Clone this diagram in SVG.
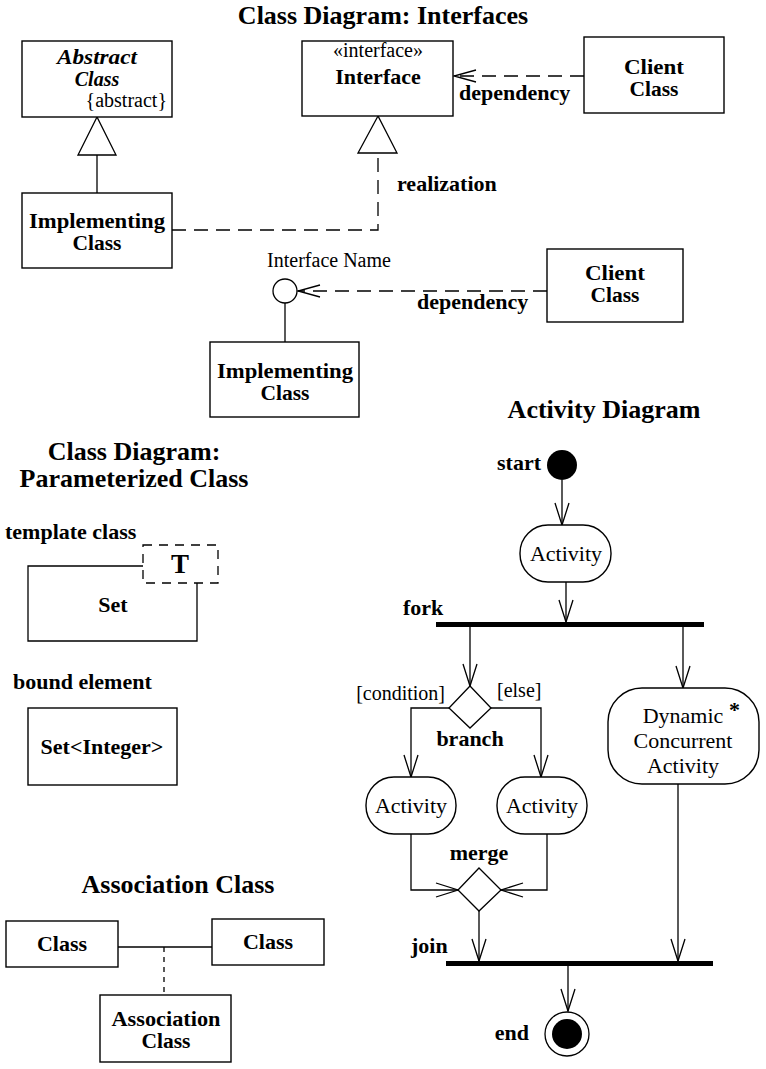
<svg xmlns="http://www.w3.org/2000/svg" width="766" height="1069" viewBox="0 0 766 1069">
<style>
text{font-family:"Liberation Serif","Times New Roman",serif;fill:#000}
.b{font-weight:bold;font-size:22px}
.c{font-weight:bold;font-size:20px}
.r{font-size:20px}
.a{font-size:22px}
.t{font-weight:bold;font-size:26px}
.box{fill:#fff;stroke:#000;stroke-width:1.4}
.ln{fill:none;stroke:#000;stroke-width:1.3}
.dash{fill:none;stroke:#000;stroke-width:1.3;stroke-dasharray:14 8}
.m{text-anchor:middle}
.e{text-anchor:end}
</style>
<defs>
<marker id="open" viewBox="-25 -10 30 20" refX="0" refY="0" markerWidth="30" markerHeight="20" markerUnits="userSpaceOnUse" orient="auto">
<path d="M-22,-7 L0,0 L-22,7" fill="none" stroke="#000" stroke-width="1.3"/>
</marker>
<marker id="open2" viewBox="-25 -10 30 20" refX="0" refY="0" markerWidth="30" markerHeight="20" markerUnits="userSpaceOnUse" orient="auto">
<path d="M-22,-6 L0,0 L-22,6" fill="none" stroke="#000" stroke-width="1.3"/>
</marker>
</defs>
<rect width="766" height="1069" fill="#fff"/>

<!-- titles -->
<text class="t m" x="383" y="24">Class Diagram: Interfaces</text>
<text class="t m" x="604" y="418">Activity Diagram</text>
<text class="t m" x="134" y="460">Class Diagram:</text>
<text class="t m" x="134" y="487">Parameterized Class</text>
<text class="t m" x="178" y="893">Association Class</text>

<!-- connectors -->
<g id="connectors">
<line class="ln" x1="97" y1="155" x2="97" y2="193"/>
<polygon points="97,117 78,155 116,155" fill="#fff" stroke="#000" stroke-width="1.3"/>
<polyline class="dash" points="172,230 378,230 378,155"/>
<polygon points="378,116 358,153 397,153" fill="#fff" stroke="#000" stroke-width="1.3"/>
<line class="dash" x1="584" y1="76" x2="454" y2="76" marker-end="url(#open2)"/>
<line class="dash" x1="547" y1="291" x2="298" y2="291" marker-end="url(#open2)"/>
<line class="ln" x1="285" y1="303" x2="285" y2="342"/>
<line class="ln" x1="118" y1="947" x2="212" y2="947"/>
<line class="ln" x1="164" y1="947" x2="164" y2="995" stroke-dasharray="5 5"/>
<line class="ln" x1="562" y1="480" x2="562" y2="525" marker-end="url(#open)"/>
<line class="ln" x1="566" y1="582" x2="566" y2="622" marker-end="url(#open)"/>
<line class="ln" x1="470" y1="627" x2="470" y2="686" marker-end="url(#open)"/>
<line class="ln" x1="683" y1="627" x2="683" y2="688" marker-end="url(#open)"/>
<polyline class="ln" points="449,708 411,708 411,777" marker-end="url(#open)"/>
<polyline class="ln" points="491,708 541,708 541,777" marker-end="url(#open)"/>
<polyline class="ln" points="411,834 411,890 458,890" marker-end="url(#open)"/>
<polyline class="ln" points="547,834 547,890 501,890" marker-end="url(#open)"/>
<line class="ln" x1="479" y1="911" x2="479" y2="961" marker-end="url(#open)"/>
<line class="ln" x1="678" y1="784" x2="678" y2="961" marker-end="url(#open)"/>
<line class="ln" x1="568" y1="966" x2="568" y2="1011" marker-end="url(#open)"/>
</g>

<!-- Interfaces -->
<g id="abstract-class">
<rect class="box" x="22" y="41" width="150" height="76"/>
<text class="c m" x="97" y="64" font-style="italic" textLength="80" lengthAdjust="spacingAndGlyphs">Abstract</text>
<text class="c m" x="97" y="86" font-style="italic">Class</text>
<text class="r e" x="167" y="107">{abstract}</text>
</g>
<g id="implementing-class-1">
<rect class="box" x="22" y="193" width="150" height="75"/>
<text class="c m" x="97" y="228" textLength="136" lengthAdjust="spacingAndGlyphs">Implementing</text>
<text class="c m" x="97" y="250" textLength="49" lengthAdjust="spacingAndGlyphs">Class</text>
</g>
<g id="interface">
<rect class="box" x="302" y="41" width="151" height="75"/>
<text class="r m" x="378" y="57" font-size="18">«interface»</text>
<text class="b m" x="378" y="84">Interface</text>
</g>
<g id="client-class-1">
<rect class="box" x="584" y="37" width="140" height="76"/>
<text class="c m" x="654" y="74" textLength="60" lengthAdjust="spacingAndGlyphs">Client</text>
<text class="c m" x="654" y="96" textLength="49" lengthAdjust="spacingAndGlyphs">Class</text>
</g>
<text class="b" x="459" y="100">dependency</text>
<text class="b" x="397" y="191">realization</text>

<g id="interface-lollipop">
<circle cx="285" cy="291" r="12" fill="#fff" stroke="#000" stroke-width="1.3"/>
<text class="r m" x="329" y="267">Interface Name</text>
</g>
<g id="client-class-2">
<rect class="box" x="547" y="249" width="136" height="73"/>
<text class="c m" x="615" y="280" textLength="60" lengthAdjust="spacingAndGlyphs">Client</text>
<text class="c m" x="615" y="302" textLength="49" lengthAdjust="spacingAndGlyphs">Class</text>
</g>
<text class="b" x="417" y="309">dependency</text>
<g id="implementing-class-2">
<rect class="box" x="210" y="342" width="149" height="75"/>
<text class="c m" x="285" y="378" textLength="136" lengthAdjust="spacingAndGlyphs">Implementing</text>
<text class="c m" x="285" y="400" textLength="49" lengthAdjust="spacingAndGlyphs">Class</text>
</g>

<!-- Parameterized -->
<text class="b" x="5" y="539">template class</text>
<g id="template-class">
<path class="ln" d="M143,566 L28,566 L28,641 L197,641 L197,583"/>
<rect x="143" y="545" width="75" height="38" fill="none" stroke="#000" stroke-width="1.3" stroke-dasharray="9 7"/>
<text class="m" x="180" y="573" font-weight="bold" font-size="27">T</text>
<text class="b m" x="113" y="612">Set</text>
</g>
<text class="b" x="13" y="689">bound element</text>
<g id="bound-element">
<rect class="box" x="28" y="708" width="149" height="77"/>
<text class="b m" x="102" y="754">Set&lt;Integer&gt;</text>
</g>

<!-- Association -->
<g id="class-left">
<rect class="box" x="6" y="921" width="112" height="46"/>
<text class="b m" x="62" y="951">Class</text>
</g>
<g id="class-right">
<rect class="box" x="212" y="919" width="112" height="46"/>
<text class="b m" x="268" y="949">Class</text>
</g>
<g id="association-class">
<rect class="box" x="100" y="995" width="131" height="67"/>
<text class="c m" x="166" y="1026" textLength="109" lengthAdjust="spacingAndGlyphs">Association</text>
<text class="c m" x="166" y="1048" textLength="49" lengthAdjust="spacingAndGlyphs">Class</text>
</g>

<!-- Activity -->
<g id="start">
<circle cx="562" cy="465" r="15" fill="#000"/>
<text class="b e" x="541" y="470">start</text>
</g>
<g id="activity-1">
<rect class="box" x="520" y="525" width="91" height="57" rx="28" ry="28"/>
<text class="a m" x="566" y="561">Activity</text>
</g>
<g id="fork">
<rect x="436" y="622" width="268" height="5" fill="#000"/>
<text class="b" x="403" y="615">fork</text>
</g>
<g id="branch">
<polygon points="470,686 491,708 470,728 449,708" fill="#fff" stroke="#000" stroke-width="1.3"/>
<text class="r e" x="445" y="700">[condition]</text>
<text class="r" x="497" y="697">[else]</text>
<text class="b m" x="470" y="746">branch</text>
</g>
<g id="activity-left">
<rect class="box" x="366" y="777" width="90" height="57" rx="28" ry="28"/>
<text class="a m" x="411" y="813">Activity</text>
</g>
<g id="activity-right">
<rect class="box" x="497" y="777" width="90" height="57" rx="28" ry="28"/>
<text class="a m" x="542" y="813">Activity</text>
</g>
<g id="dynamic-activity">
<rect class="box" x="608" y="688" width="151" height="96" rx="34" ry="34"/>
<text class="a m" x="683" y="723">Dynamic</text>
<text class="a m" x="683" y="748">Concurrent</text>
<text class="a m" x="683" y="773">Activity</text>
<text class="b" x="729" y="717">*</text>
</g>
<g id="merge">
<polygon points="479,868 501,890 479,911 458,890" fill="#fff" stroke="#000" stroke-width="1.3"/>
<text class="b m" x="479" y="860">merge</text>
</g>
<g id="join">
<rect x="446" y="961" width="267" height="5" fill="#000"/>
<text class="b" x="411" y="953">join</text>
</g>
<g id="end">
<circle cx="567" cy="1034" r="22" fill="#fff" stroke="#000" stroke-width="1.3"/>
<circle cx="567" cy="1034" r="15" fill="#000"/>
<text class="b e" x="529" y="1040">end</text>
</g>
</svg>
